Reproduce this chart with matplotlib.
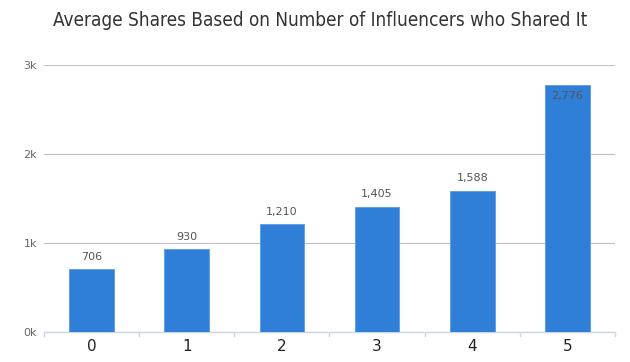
import matplotlib
matplotlib.use("Agg")
import matplotlib.pyplot as plt

categories = ["0", "1", "2", "3", "4", "5"]
values = [706, 930, 1210, 1405, 1588, 2776]
value_labels = ["706", "930", "1,210", "1,405", "1,588", "2,776"]
yticks = [0, 1000, 2000, 3000]
ytick_labels = ["0k", "1k", "2k", "3k"]
title = "Average Shares Based on Number of Influencers who Shared It"

fig = plt.figure(figsize=(6.3, 3.62), dpi=100)
ax = fig.add_axes([44/630, 1-332/362, 571/630, (332-65)/362])

x = list(range(len(categories)))
ax.bar(x, values, width=0.47, color="#2f7ed8", edgecolor="#5a9be6", linewidth=0.6, zorder=3)

ax.set_xlim(-0.5, len(categories) - 0.5)
ax.set_ylim(0, 3000)
ax.set_yticks(yticks)
ax.set_yticklabels(ytick_labels, color="#666666", fontsize=8)
ax.set_xticks(x)
ax.set_xticklabels(categories, color="#222222", fontsize=11)
ax.tick_params(axis="y", length=0, pad=5)
ax.tick_params(axis="x", length=0, pad=5)
for t in [i - 0.5 for i in range(len(categories) + 1)]:
    ax.plot([t, t], [0, -0.016], transform=ax.get_xaxis_transform(), color="#ccd6eb", lw=1, clip_on=False)

ax.grid(axis="y", color="#c0c0c0", linewidth=0.8, zorder=0)
for s in ["top", "right", "left"]:
    ax.spines[s].set_visible(False)
ax.spines["bottom"].set_color("#ccd6eb")
ax.spines["bottom"].set_linewidth(1)

for xi, v, lab in zip(x, values, value_labels):
    if v > 2700:
        ax.annotate(lab, (xi, v), xytext=(0, -8), textcoords="offset points",
                    ha="center", va="center", fontsize=8, color="#555555", zorder=4)
    else:
        ax.annotate(lab, (xi, v), xytext=(0, 9), textcoords="offset points",
                    ha="center", va="center", fontsize=8, color="#555555", zorder=4)

fig.text(320/630, 1 - 20/362, title, ha="center", va="center", fontsize=13.6, color="#333333",
         fontstretch="condensed")

fig.savefig("out.png", dpi=100)
